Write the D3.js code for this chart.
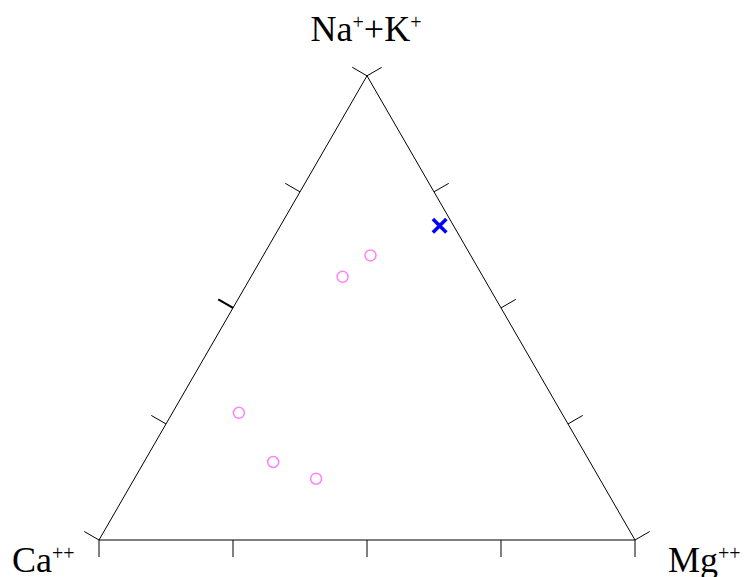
<!DOCTYPE html>
<html>
<head>
<meta charset="utf-8">
<script src="https://cdn.jsdelivr.net/npm/d3@7"></script>
<style>
  body { margin: 0; background: #fff; }
  text { font-family: "Liberation Serif", "Times New Roman", serif; fill: #000; }
</style>
</head>
<body>
<div id="chart"></div>
<script>
// ternary data (fractions, Ca + Mg + Na/K = 1)
const samples = ["S1", "S2", "S3", "S4", "S5"];
const sampleCa = [0.187, 0.262, 0.602, 0.591, 0.529];
const sampleMg = [0.200, 0.171, 0.124, 0.241, 0.339];
const sampleNaK = [0.613, 0.567, 0.274, 0.168, 0.132];

const refCa = [0.026];
const refMg = [0.297];
const refNaK = [0.677];

const tickFractions = [0, 0.25, 0.5, 0.75, 1];

let width = 746,
    height = 577;

const svg = d3.select("#chart")
  .append("svg")
  .attr("width", width)
  .attr("height", height);

// base of triangle along x, height along y
let x = d3.scaleLinear().domain([0, 1]).range([99, 635]);
let side = x(1) - x(0);
let y = d3.scaleLinear().domain([0, 1]).range([540, 540 - side * Math.sqrt(3) / 2]);

// mg -> right, naK -> top
const px = (mg, na) => x(mg + na / 2);
const py = (na) => y(na);

const vCa = [px(0, 0), py(0)],
      vMg = [px(1, 0), py(0)],
      vNa = [px(0, 1), py(1)];

svg.append("path")
  .attr("d", d3.line()([vCa, vMg, vNa, vCa]))
  .attr("fill", "none")
  .attr("stroke", "#000")
  .attr("stroke-width", 1);

let tickLen = 17;
let c30 = Math.cos(Math.PI / 6), s30 = 0.5;

// bottom axis ticks (Mg fraction), pointing down
svg.append("g").selectAll("line")
  .data(tickFractions)
  .join("line")
    .attr("x1", d => px(d, 0))
    .attr("x2", d => px(d, 0))
    .attr("y1", py(0))
    .attr("y2", py(0) + tickLen)
    .attr("stroke", "#000");

// left side ticks (Na+K along Ca edge), pointing up-left
svg.append("g").selectAll("line")
  .data(tickFractions)
  .join("line")
    .attr("x1", d => px(0, d))
    .attr("y1", d => py(d))
    .attr("x2", d => px(0, d) - tickLen * c30)
    .attr("y2", d => py(d) - tickLen * s30)
    .attr("stroke", "#000")
    .attr("stroke-width", d => d == 0.5 ? 2.2 : 1);

// right side ticks (Na+K along Mg edge), pointing up-right
svg.append("g").selectAll("line")
  .data(tickFractions)
  .join("line")
    .attr("x1", d => px(1 - d, d))
    .attr("y1", d => py(d))
    .attr("x2", d => px(1 - d, d) + tickLen * c30)
    .attr("y2", d => py(d) - tickLen * s30)
    .attr("stroke", "#000");

// samples
svg.append("g").selectAll("circle")
  .data(samples)
  .join("circle")
    .attr("cx", (d, i) => px(sampleMg[i], sampleNaK[i]))
    .attr("cy", (d, i) => py(sampleNaK[i]))
    .attr("r", 5.5)
    .attr("fill", "none")
    .attr("stroke", "#ff80ff")
    .attr("stroke-width", 1.5);

// reference point
let cross = d3.symbol().type(d3.symbolX).size(120);
svg.append("g").selectAll("path")
  .data(refMg)
  .join("path")
    .attr("d", cross)
    .attr("transform", (d, i) => `translate(${px(refMg[i], refNaK[i])},${py(refNaK[i])})`)
    .attr("fill", "none")
    .attr("stroke", "#0000ff")
    .attr("stroke-width", 3.5);

// corner labels
function label(xp, yp, parts, anchor) {
  let t = svg.append("text")
    .attr("x", xp)
    .attr("y", yp)
    .attr("text-anchor", anchor)
    .style("font-size", "36px");
  parts.forEach(p => {
    t.append("tspan")
      .attr("dy", p[1] ? -12 : (p[2] ? 12 : 0))
      .style("font-size", p[1] ? "20px" : "36px")
      .text(p[0]);
  });
}
label(12, 572, [["Ca"], ["++", true]], "start");
label(668, 572, [["Mg"], ["++", true]], "start");
label(366, 41, [["Na"], ["+", true], ["+K", false, true], ["+", true]], "middle");
</script>
</body>
</html>
